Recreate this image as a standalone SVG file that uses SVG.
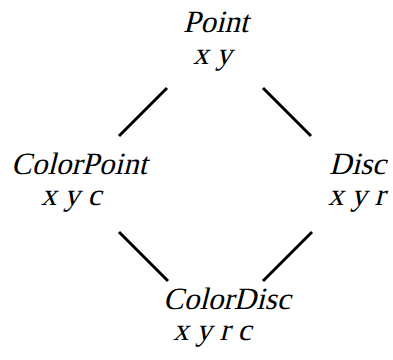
<svg xmlns="http://www.w3.org/2000/svg" width="393" height="360" viewBox="0 0 393 360">
<style>
line{stroke:#000;stroke-width:3}
text{font-family:"Liberation Serif","Times New Roman",serif;font-size:31px;fill:#000}
</style>
<rect width="393" height="360" fill="#fff"/>
<g id="connectors">
<line x1="167" y1="88" x2="119" y2="136"/>
<line x1="263" y1="88" x2="311" y2="136"/>
<line x1="119" y1="232" x2="168" y2="281"/>
<line x1="263" y1="281" x2="312" y2="232"/>
</g>
<g id="Point"><text transform="translate(183,32) skewX(-14)">Point</text><text transform="translate(193,64) skewX(-14)">x y</text></g>
<g id="ColorPoint"><text transform="translate(11,174) skewX(-14)">ColorPoint</text><text transform="translate(41,205) skewX(-14)">x y c</text></g>
<g id="Disc"><text transform="translate(329,174) skewX(-14)">Disc</text><text transform="translate(328,205) skewX(-14)">x y r</text></g>
<g id="ColorDisc"><text transform="translate(163,309) skewX(-14)">ColorDisc</text><text transform="translate(173,340) skewX(-14)">x y r c</text></g>
</svg>
